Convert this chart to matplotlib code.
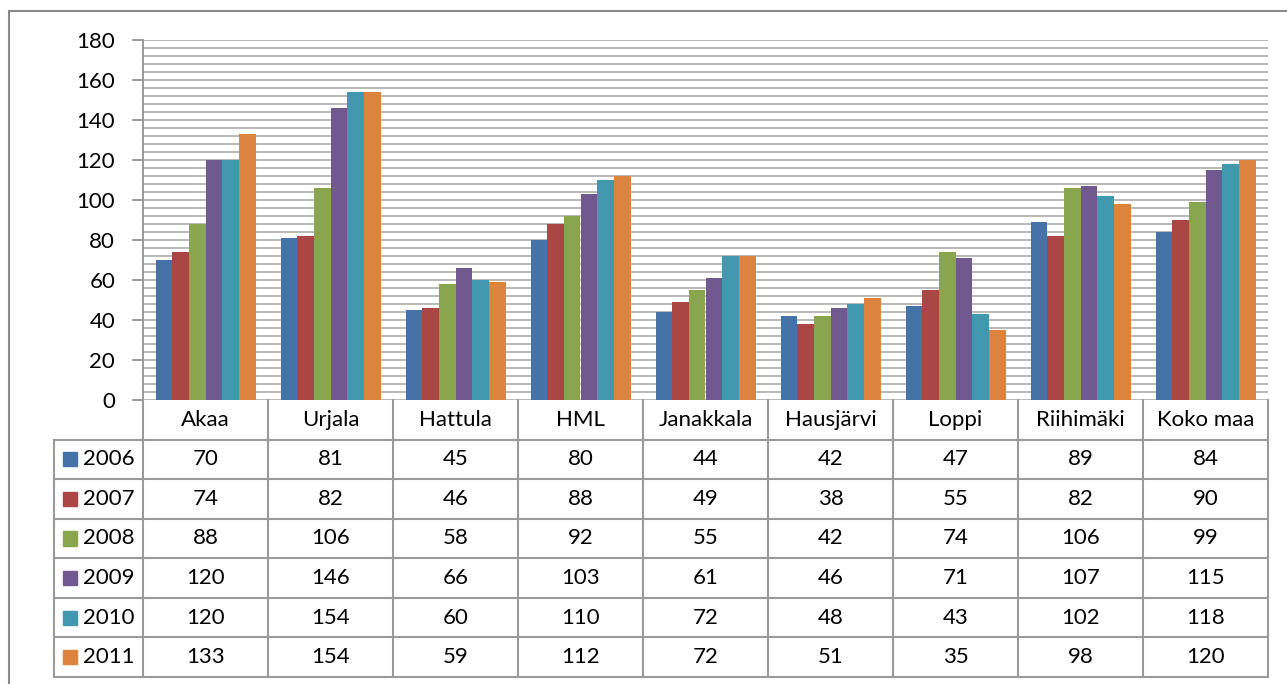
import numpy as np
import matplotlib.pyplot as plt
from matplotlib.patches import Rectangle

# --- datos ---
categories = ['Akaa', 'Urjala', 'Hattula', 'HML', 'Janakkala',
              'Hausjärvi', 'Loppi', 'Riihimäki', 'Koko maa']
years = ['2006', '2007', '2008', '2009', '2010', '2011']
v2006 = [70, 81, 45, 80, 44, 42, 47, 89, 84]
v2007 = [74, 82, 46, 88, 49, 38, 55, 82, 90]
v2008 = [88, 106, 58, 92, 55, 42, 74, 106, 99]
v2009 = [120, 146, 66, 103, 61, 46, 71, 107, 115]
v2010 = [120, 154, 60, 110, 72, 48, 43, 102, 118]
v2011 = [133, 154, 59, 112, 72, 51, 35, 98, 120]
series = [v2006, v2007, v2008, v2009, v2010, v2011]
colors = ['#4572A7', '#AA4643', '#89A54E', '#71588F', '#4198AF', '#DB843D']

plt.rcParams['font.family'] = ['Lato', 'DejaVu Sans']
FS = 16
W, H = 1287, 684
fig = plt.figure(figsize=(W / 100, H / 100), dpi=100)

# marco exterior
fig.patches.append(Rectangle((9 / W, -0.1), 1.2, (H - 11) / H + 0.1,
                             transform=fig.transFigure, fill=False,
                             edgecolor='#8a8a8a', lw=1.5))

x0, x1 = 143, 1268
ax = fig.add_axes([x0 / W, (H - 400) / H, (x1 - x0) / W, 360 / H])
x = np.arange(len(categories))
bw = 0.8 / len(years)
for i, (vals, c) in enumerate(zip(series, colors)):
    ax.bar(x + (i - 2.5) * bw, vals, bw, color=c, zorder=3)

ax.set_xlim(-0.5, len(categories) - 0.5)
ax.set_ylim(0, 180)
ax.set_yticks(range(0, 181, 20))
ax.set_yticks(range(0, 181, 4), minor=True)
ax.yaxis.grid(True, which='both', color='#b3b3b3', lw=1.3, zorder=0)
ax.tick_params(axis='y', which='major', length=8, width=1.2, color='#8a8a8a',
               labelsize=FS, pad=12)
ax.tick_params(axis='y', which='minor', length=0)
ax.set_xticks([])
for s in ['top', 'right', 'bottom']:
    ax.spines[s].set_visible(False)
ax.spines['left'].set_color('#8a8a8a')
ax.spines['left'].set_linewidth(1.2)

# tabla de datos
tab = fig.add_axes([x0 / W, (H - 677) / H, (x1 - x0) / W, 277 / H])
tab.set_xlim(-0.5, len(categories) - 0.5)
tab.set_ylim(7, 0)
tab.axis('off')
lc = '#9a9a9a'
left = -0.5 - 89 / 125
for j in range(len(categories) + 1):
    tab.plot([j - 0.5, j - 0.5], [0, 7], color=lc, lw=1.5, clip_on=False)
tab.plot([left, left], [1, 7], color=lc, lw=1.5, clip_on=False)
for r in range(1, 8):
    tab.plot([left, len(categories) - 0.5], [r, r], color=lc, lw=1.5,
             clip_on=False)

for j, cat in enumerate(categories):
    tab.text(j, 0.5, cat, ha='center', va='center', fontsize=FS)
for i, (yr, vals, c) in enumerate(zip(years, series, colors)):
    r = i + 1.5
    tab.add_patch(Rectangle((left + 9 / 125, r - 0.18), 14 / 125, 0.36,
                            color=c, clip_on=False))
    tab.text(left + 29 / 125, r, yr, ha='left', va='center', fontsize=FS)
    for j, v in enumerate(vals):
        tab.text(j, r, str(v), ha='center', va='center', fontsize=FS)

plt.savefig('out.png', dpi=100)
